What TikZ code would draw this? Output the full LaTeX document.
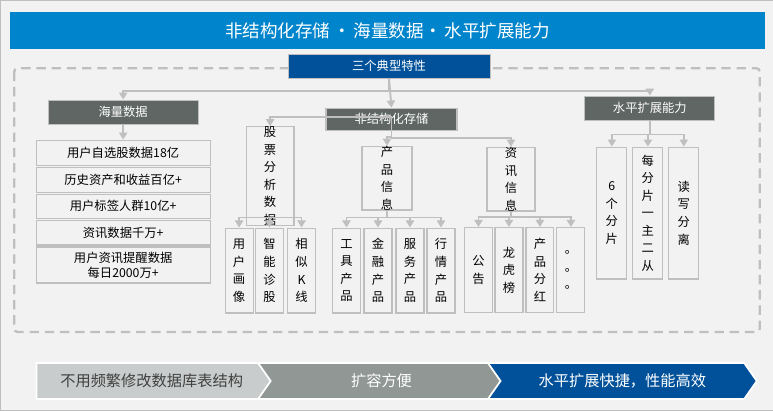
\documentclass[tikz,border=0pt]{standalone}
\usepackage{fontspec}
\setmainfont{Noto Sans CJK SC}
\usepackage{xcolor}
\usetikzlibrary{arrows.meta,shapes.symbols}
\definecolor{mybg}{HTML}{F2F2F2}
\definecolor{mytitle}{HTML}{0085CC}
\definecolor{mynavy}{HTML}{00519A}
\definecolor{mydark}{HTML}{5F6664}
\definecolor{myline}{HTML}{BFBFBF}
\definecolor{mylight}{HTML}{C9CCCC}
\definecolor{mymid}{HTML}{909795}
\tikzset{
  conn/.style={draw=myline, line width=1.6pt, -{Triangle[width=7pt,length=6pt]}},
  headbox/.style={fill=mydark, draw=myline, line width=1pt, text=white, font=\fontsize{10.5}{12}\selectfont, inner sep=0pt},
  listbox/.style={draw=myline, line width=1pt, fill=mybg, minimum width=5.22cm, font=\fontsize{10.5}{12.5}\selectfont, align=center, inner sep=0pt},
  vbox/.style={draw=myline, line width=1pt, fill=mybg, align=center, inner sep=0pt, font=\fontsize{10.5}{15}\selectfont},
  leaf/.style={vbox, minimum width=0.84cm, minimum height=2.55cm},
  chev/.style={signal, signal to=east, signal pointer angle=110, minimum height=1.08cm, inner sep=0pt, draw=white, line width=1.5pt, font=\fontsize{13}{15}\selectfont}
}
\begin{document}
\begin{tikzpicture}[x=0.03cm, y=-0.03cm]
    % frame
    \fill[mybg, draw=myline] (0,0) rectangle (773,410);
    \node[fill=mytitle, minimum width=22.65cm, minimum height=1.1cm, inner sep=0pt, text=white, font=\fontsize{15}{17}\selectfont] (title) at (387.5,30.5) {非结构化存储\,·\,海量数据·\,水平扩展能力};
    \draw[myline, line width=2pt, dash pattern=on 8pt off 5pt, rounded corners=3pt] (14,68) rectangle (760,332);

    % top level
    \node[fill=mynavy, draw=myline, minimum width=6.06cm, minimum height=0.72cm, text=white, inner sep=0pt, font=\fontsize{10.5}{12}\selectfont] (sange) at (389,66) {三个典型特性};
    \node[headbox, minimum width=4.5cm, minimum height=0.72cm] (haiyang) at (123,112) {海量数据};
    \node[headbox, minimum width=3.93cm, minimum height=0.66cm] (fei) at (391.5,119) {非结构化存储};
    \node[headbox, minimum width=3.9cm, minimum height=0.72cm] (shuiping) at (650,108) {水平扩展能力};
    \draw[conn] (sange.south) |- ([yshift=0.27cm]haiyang.north) -- (haiyang.north);
    \draw[conn] (sange.south) |- ([yshift=0.15cm]shuiping.north) -- (shuiping.north);
    \draw[conn] (sange.south) -- (fei.north);

    % massive data
    \node[listbox, minimum height=0.75cm] (l1) at (123,152.5) {用户自选股数据18亿};
    \node[listbox, minimum height=0.75cm] (l2) at (123,179.5) {历史资产和收益百亿+};
    \node[listbox, minimum height=0.72cm] (l3) at (123,206) {用户标签人群10亿+};
    \node[listbox, minimum height=0.75cm] (l4) at (123,232.5) {资讯数据千万+};
    \node[listbox, minimum height=1.08cm] (l5) at (123,265) {用户资讯提醒数据\\每日2000万+};
    \draw[conn] (haiyang.south) -- (l1.north);

    % unstructured storage
    \node[vbox, minimum width=1.44cm, minimum height=1.44cm] (gupiao) at (270,176) {股\\票\\分\\析\\数\\据};
    \node[vbox, minimum width=1.5cm, minimum height=1.56cm] (chanpin) at (387,178) {产\\品\\信\\息};
    \node[vbox, minimum width=1.44cm, minimum height=1.62cm] (zixun) at (511,179) {资\\讯\\信\\息};
    \foreach \c in {gupiao,chanpin,zixun}
        \draw[conn] (fei.south) |- ([yshift=0.27cm]\c.north) -- (\c.north);

    \node[leaf] (g1) at (239,270.5) {用\\户\\画\\像};
    \node[leaf] (g2) at (269.5,270.5) {智\\能\\诊\\股};
    \node[leaf] (g3) at (301.5,270.5) {相\\似\\K\\线};
    \node[leaf] (c1) at (346.5,270.5) {工\\具\\产\\品};
    \node[leaf] (c2) at (378,270.5) {金\\融\\产\\品};
    \node[leaf] (c3) at (410,270.5) {服\\务\\产\\品};
    \node[leaf] (c4) at (441,270.5) {行\\情\\产\\品};
    \node[leaf] (z1) at (478.5,270) {公\\告};
    \node[leaf] (z2) at (509,270) {龙\\虎\\榜};
    \node[leaf] (z3) at (540,270) {产\\品\\分\\红};
    \node[leaf] (z4) at (571,270) {。\\。\\。};
    \foreach \c in {g1,g2,g3}
        \draw[conn] (gupiao.south) |- ([yshift=0.3cm]\c.north) -- (\c.north);
    \foreach \c in {c1,c2,c3,c4}
        \draw[conn] (chanpin.south) |- ([yshift=0.3cm]\c.north) -- (\c.north);
    \foreach \c in {z1,z2,z3,z4}
        \draw[conn] (zixun.south) |- ([yshift=0.3cm]\c.north) -- (\c.north);

    % horizontal scaling
    \node[vbox, minimum width=0.9cm, minimum height=3.96cm] (s1) at (612,213) {6\\个\\分\\片};
    \node[vbox, minimum width=0.9cm, minimum height=3.96cm] (s2) at (648,213) {每\\分\\片\\一\\主\\二\\从};
    \node[vbox, minimum width=0.9cm, minimum height=3.96cm] (s3) at (684,213) {读\\写\\分\\离};
    \foreach \c in {s1,s2,s3}
        \draw[conn] (shuiping.south) |- ([yshift=0.36cm]\c.north) -- (\c.north);

    % bottom chevrons
    \node[chev, fill=mylight, text=black!75, minimum width=7.29cm] (b1) at (151.5,381) {不用频繁修改数据库表结构};
    \node[chev, signal from=west, fill=mymid, text=white, minimum width=7.41cm] (b2) at (381.5,381) {扩容方便};
    \node[chev, signal from=west, fill=mynavy, text=white, minimum width=8.07cm] (b3) at (622.5,381) {水平扩展快捷，性能高效};
\end{tikzpicture}
\end{document}
